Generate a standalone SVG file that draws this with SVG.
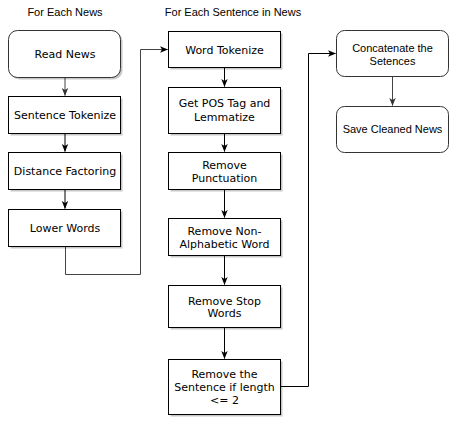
<svg xmlns="http://www.w3.org/2000/svg" width="460" height="426" viewBox="0 0 460 426">
<style>
.box{fill:#fff;stroke:#000;stroke-width:1}
.rbox{fill:#fff;stroke:#333;stroke-width:1}
.sh{fill:#000;opacity:0.22}
.t{font-family:"DejaVu Sans",Verdana,sans-serif;font-size:11px;fill:#000;text-anchor:middle}
.a{font-family:"Liberation Sans",Arial,sans-serif;font-size:11px;fill:#000;text-anchor:middle}
.c{fill:none;stroke:#000;stroke-width:1}
.g{fill:none;stroke:#444;stroke-width:1}
</style>
<defs>
<marker id="ar" viewBox="0 0 8 8" refX="7.5" refY="4" markerWidth="8" markerHeight="8" markerUnits="userSpaceOnUse" orient="auto">
<path d="M0,0.8 L8,4 L0,7.2 L2,4 Z" fill="#000"/>
</marker>
<marker id="arg" viewBox="0 0 8 8" refX="7.5" refY="4" markerWidth="8" markerHeight="8" markerUnits="userSpaceOnUse" orient="auto">
<path d="M0,0.8 L8,4 L0,7.2 L2,4 Z" fill="#333"/>
</marker>
</defs>
<rect width="460" height="426" fill="#fff"/>
<text class="a" x="65" y="16">For Each News</text>
<text class="a" x="233" y="16">For Each Sentence in News</text>
<g id="connectors">
<path class="g" d="M65,77.5 V95.5" marker-end="url(#arg)"/>
<path class="c" d="M65,133.5 V151.5" stroke-width="1.5" marker-end="url(#ar)"/>
<path class="c" d="M65,189.5 V208.5" marker-end="url(#ar)"/>
<path class="g" d="M65.5,246.5 V274.5 H140.5 V49.5 H167.5" marker-end="url(#ar)"/>
<path class="c" d="M224.5,67.5 V86.5" marker-end="url(#ar)"/>
<path class="c" d="M224.5,133.5 V151.5" stroke-width="1.5" marker-end="url(#ar)"/>
<path class="c" d="M224.5,189.5 V217.5" marker-end="url(#ar)"/>
<path class="c" d="M224.5,255.5 V284.5" marker-end="url(#ar)"/>
<path class="c" d="M224.5,327.5 V358.5" stroke-width="1.5" marker-end="url(#ar)"/>
<path class="c" d="M280.5,386.5 H308.5 V53.5 H335.5" marker-end="url(#ar)"/>
<path class="g" d="M392.5,76.5 V105.5" marker-end="url(#arg)"/>
</g>
<g id="read-news"><rect class="sh" x="10.5" y="32.5" width="112" height="47" rx="9"/><rect class="rbox" x="8.5" y="30.5" width="112" height="47" rx="9"/><text class="t" x="65" y="58">Read News</text></g>
<g id="sentence-tokenize"><rect class="sh" x="10.5" y="98.5" width="112" height="37"/><rect class="box" x="8.5" y="96.5" width="112" height="37"/><text class="t" x="65" y="119">Sentence Tokenize</text></g>
<g id="distance-factoring"><rect class="sh" x="10.5" y="154.5" width="112" height="37"/><rect class="box" x="8.5" y="152.5" width="112" height="37"/><text class="t" x="65" y="175">Distance Factoring</text></g>
<g id="lower-words"><rect class="sh" x="10.5" y="211.5" width="112" height="37"/><rect class="box" x="8.5" y="209.5" width="112" height="37"/><text class="t" x="65" y="232">Lower Words</text></g>
<g id="word-tokenize"><rect class="sh" x="170.5" y="33.5" width="112" height="36"/><rect class="box" x="168.5" y="31.5" width="112" height="36"/><text class="t" x="224.5" y="54">Word Tokenize</text></g>
<g id="pos-tag"><rect class="sh" x="170.5" y="89.5" width="112" height="46"/><rect class="box" x="168.5" y="87.5" width="112" height="46"/><text class="t" x="224.5" y="107">Get POS Tag and</text><text class="t" x="224.5" y="121">Lemmatize</text></g>
<g id="remove-punctuation"><rect class="sh" x="170.5" y="154.5" width="112" height="37"/><rect class="box" x="168.5" y="152.5" width="112" height="37"/><text class="t" x="224.5" y="169">Remove</text><text class="t" x="224.5" y="182">Punctuation</text></g>
<g id="remove-non-alpha"><rect class="sh" x="170.5" y="220.5" width="112" height="37"/><rect class="box" x="168.5" y="218.5" width="112" height="37"/><text class="t" x="224.5" y="235">Remove Non-</text><text class="t" x="224.5" y="248">Alphabetic Word</text></g>
<g id="remove-stop-words"><rect class="sh" x="170.5" y="287.5" width="112" height="42"/><rect class="box" x="168.5" y="285.5" width="112" height="42"/><text class="t" x="224.5" y="305">Remove Stop</text><text class="t" x="224.5" y="317">Words</text></g>
<g id="remove-sentence"><rect class="sh" x="170.5" y="361.5" width="112" height="55"/><rect class="box" x="168.5" y="359.5" width="112" height="55"/><text class="t" x="224.5" y="378">Remove the</text><text class="t" x="224.5" y="391">Sentence if length</text><text class="t" x="224.5" y="404">&lt;= 2</text></g>
<g id="concatenate"><rect class="rbox" x="336.5" y="30.5" width="112" height="46" rx="8"/><text class="a" x="392.5" y="52">Concatenate the</text><text class="a" x="392.5" y="65">Setences</text></g>
<g id="save-cleaned"><rect class="rbox" x="336.5" y="106.5" width="112" height="46" rx="8"/><text class="a" x="392.5" y="133">Save Cleaned News</text></g>
</svg>
